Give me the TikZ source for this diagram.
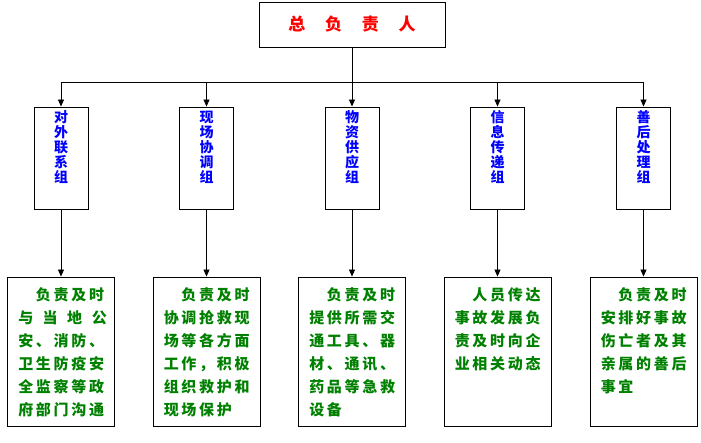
\documentclass[tikz,border=0pt]{standalone}
\usepackage{fontspec}
\setmainfont{Noto Sans CJK SC}
\usetikzlibrary{positioning, arrows.meta}
\definecolor{taskgreen}{RGB}{0,128,0}

\tikzset{
  box/.style={draw, line width=0.9pt, inner sep=0pt},
  grp/.style={box, minimum width=54pt, minimum height=102pt},
  task/.style={box, minimum width=107pt, minimum height=149pt},
  grptext/.style={inner sep=0pt, align=center, text=blue,
    font=\fontsize{14}{15}\selectfont\bfseries},
  tasktext/.style={inner sep=0pt, align=left, text=taskgreen,
    font=\fontsize{15}{23}\selectfont\bfseries\addfontfeature{LetterSpace=18}},
  arr/.style={-{Triangle[width=6pt,length=7pt]}, line width=0.8pt}
}

\begin{document}
\begin{tikzpicture}[x=1pt,y=-1pt]
    \useasboundingbox (0,0) rectangle (701,442);
    % Head of the team
    \node[box, minimum width=186pt, minimum height=45pt, text=red,
      font=\fontsize{17}{17}\selectfont\bfseries] (chief) at (352,24.5)
      {总\hspace{19.7pt}负\hspace{19.7pt}责\hspace{19.7pt}人};
    \coordinate (bus) at (352,82);

    % Groups
    \node[grp] (g1) at (61,158) {};
    \node[grp] (g2) at (206.5,158) {};
    \node[grp] (g3) at (352,158) {};
    \node[grp] (g4) at (497.5,158) {};
    \node[grp] (g5) at (643.5,158) {};
    \node[grptext, below=4pt of g1.north] (g1t) {对\\外\\联\\系\\组};
    \node[grptext, below=4pt of g2.north] (g2t) {现\\场\\协\\调\\组};
    \node[grptext, below=4pt of g3.north] (g3t) {物\\资\\供\\应\\组};
    \node[grptext, below=4pt of g4.north] (g4t) {信\\息\\传\\递\\组};
    \node[grptext, below=4pt of g5.north] (g5t) {善\\后\\处\\理\\组};

    % Tasks
    \node[task] (t1) at (61,351.5) {};
    \node[task] (t2) at (206.5,351.5) {};
    \node[task] (t3) at (352,351.5) {};
    \node[task] (t4) at (497.5,351.5) {};
    \node[task] (t5) at (643.5,351.5) {};
    \node[tasktext, below right=11pt and 11pt of t1.north west] (t1t)
      {　负责及时\\\makebox[88.5pt][s]{与\hfill 当\hfill 地\hfill 公}\\安、消防、\\卫生防疫安\\全监察等政\\府部门沟通};
    \node[tasktext, below right=11pt and 11pt of t2.north west] (t2t)
      {　负责及时\\协调抢救现\\场等各方面\\工作，积极\\组织救护和\\现场保护};
    \node[tasktext, below right=11pt and 11pt of t3.north west] (t3t)
      {　负责及时\\提供所需交\\通工具、器\\材、通讯、\\药品等急救\\设备};
    \node[tasktext, below right=11pt and 11pt of t4.north west] (t4t)
      {　人员传达\\事故发展负\\责及时向企\\业相关动态};
    \node[tasktext, below right=11pt and 11pt of t5.north west] (t5t)
      {　负责及时\\安排好事故\\伤亡者及其\\亲属的善后\\事宜};

    % Connectors
    \draw[line width=0.8pt] (chief) -- (bus);
    \draw[line width=0.8pt] (g1 |- bus) -- (g5 |- bus);
    \foreach \i in {1,...,5} {
      \draw[arr] (g\i |- bus) -- (g\i);
      \draw[arr] (g\i) -- (t\i);
    }
  \end{tikzpicture}
\end{document}
